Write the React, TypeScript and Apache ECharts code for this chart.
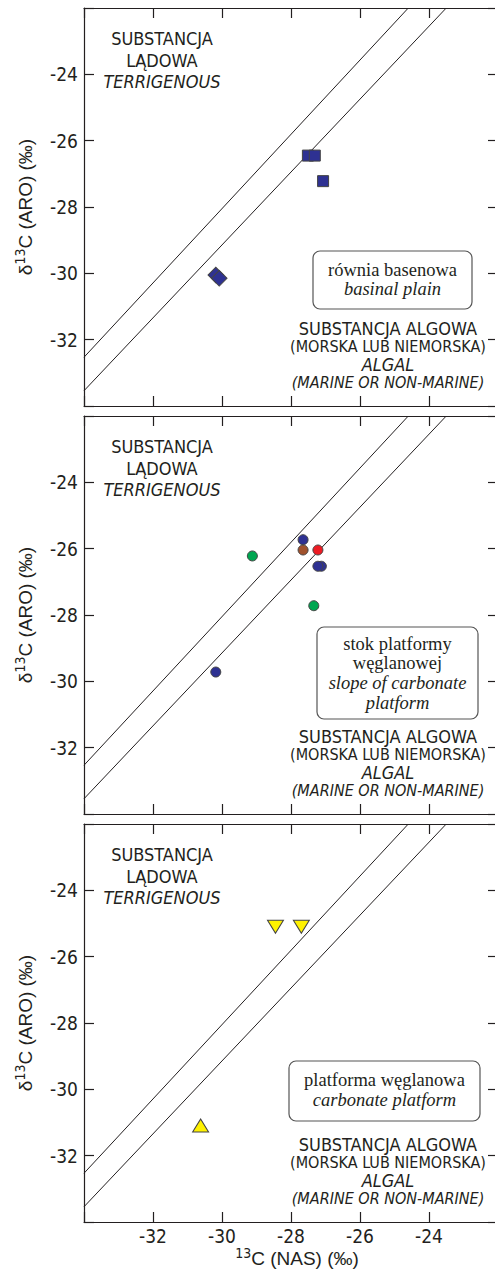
import React, { useEffect, useRef } from "react";
import * as echarts from "echarts";

// axis ranges
const X_MIN = -34;
const X_MAX = -22;
const Y_MIN = -34;
const Y_MAX = -22;
const TICK_STEP = 2;

// boundary lines (same in all panels)
const upperLine = [[-34, -32.53], [-24.6, -22]];
const lowerLine = [[-34, -33.54], [-23.5, -22]];

// panel 1: basinal plain
const basinSquares = [[-27.51, -26.45], [-27.31, -26.45], [-27.07, -27.22]];
const basinDiamonds = [[-30.18, -30.05], [-30.08, -30.15]];

// panel 2: slope of carbonate platform
const slopeBlue = [[-27.65, -25.73], [-27.12, -26.53], [-27.22, -26.53], [-30.18, -29.72]];
const slopeBrown = [[-27.65, -26.04]];
const slopeRed = [[-27.22, -26.04]];
const slopeGreen = [[-29.12, -26.22], [-27.34, -27.72]];

// panel 3: carbonate platform
const platformDown = [[-28.45, -25.1], [-27.7, -25.1]];
const platformUp = [[-30.62, -31.09]];

// texts
const yAxisTitle = "{a|δ}{s|13}{a|C (ARO) (‰)}";
const xAxisTitle = "{s|13}{a|C (NAS) (‰)}";
const terrText = ["SUBSTANCJA", "LĄDOWA", "TERRIGENOUS"];
const algalText = ["SUBSTANCJA ALGOWA", "(MORSKA LUB NIEMORSKA)", "ALGAL", "(MARINE OR NON-MARINE)"];
const boxTexts = [
  ["równia basenowa", "basinal plain"],
  ["stok platformy", "węglanowej", "slope of carbonate", "platform"],
  ["platforma węglanowa", "carbonate platform"],
];
const boxItalicFrom = [1, 2, 1];

const NARROW = '"Liberation Sans Narrow", "DejaVu Sans Condensed", "Liberation Sans", sans-serif';
const SANS = '"Liberation Sans", Arial, sans-serif';
const SERIF = '"Liberation Serif", "DejaVu Serif", serif';
const INK = "#231f20";

const GRID_LEFT = 84;
const GRID_W = 414;
const GRID_H = 398;
const gridTops = [8, 416, 824];

// box geometry relative to panel top
const boxGeom = [
  { x: 313, y: 243, w: 159, h: 58, lines: [261.5, 281] },
  { x: 317, y: 211, w: 161, h: 92, lines: [227.5, 247, 266.5, 286.5] },
  { x: 289, y: 237, w: 191, h: 60, lines: [256, 276] },
];

export default function App() {
  const ref = useRef<HTMLDivElement>(null);
  useEffect(() => {
    if (!ref.current) return;
    const chart = echarts.init(ref.current, undefined, { renderer: "svg" });

    const grids: any[] = [];
    const xAxes: any[] = [];
    const yAxes: any[] = [];
    const series: any[] = [];
    const graphics: any[] = [];

    const lineStyle = { color: INK, width: 1.2 };
    const baseAxis = (gridIndex: number) => ({
      type: "value",
      gridIndex,
      min: X_MIN,
      max: X_MAX,
      interval: TICK_STEP,
      axisLine: { show: true, onZero: false, lineStyle },
      axisTick: { show: true, inside: true, length: 10, lineStyle },
      splitLine: { show: false },
      axisLabel: { show: false },
    });
    const labelCfg = {
      show: true,
      color: INK,
      fontSize: 19,
      fontFamily: NARROW,
      formatter: (v: number) => (v === X_MIN || v === X_MAX ? "" : String(v)),
    };
    const richName = {
      a: { fontSize: 19, lineHeight: 24, fontFamily: SANS, fill: INK, color: INK },
      s: { fontSize: 14, lineHeight: 14, fontFamily: NARROW, fill: INK, color: INK, verticalAlign: "top" },
    };

    gridTops.forEach((top, i) => {
      grids.push({
        left: GRID_LEFT,
        top,
        width: GRID_W,
        height: GRID_H,
        containLabel: false,
        outerBoundsMode: "none",
      });
      const xb: any = { ...baseAxis(i), position: "bottom" };
      if (i === 2) {
        xb.axisLabel = { ...labelCfg, margin: 4 };
      }
      xAxes.push(xb);
      xAxes.push({ ...baseAxis(i), position: "top" });
      yAxes.push({
        ...baseAxis(i),
        min: Y_MIN,
        max: Y_MAX,
        position: "left",
        axisLabel: { ...labelCfg, margin: 6 },
      });
      yAxes.push({
        ...baseAxis(i),
        min: Y_MIN,
        max: Y_MAX,
        position: "right",
      });

      const xi = i * 2;
      const yi = i * 2;
      [upperLine, lowerLine].forEach((d) =>
        series.push({
          type: "line",
          xAxisIndex: xi,
          yAxisIndex: yi,
          data: d,
          symbol: "none",
          silent: true,
          lineStyle: { color: INK, width: 1 },
          z: 1,
        })
      );

      // y axis title (rotated)
      graphics.push({
        type: "text",
        x: 25,
        y: top + GRID_H / 2,
        rotation: Math.PI / 2,
        style: {
          text: yAxisTitle,
          rich: richName,
          textAlign: "center",
          textVerticalAlign: "middle",
          align: "center",
          verticalAlign: "middle",
          fill: INK,
        },
      });

      terrText.forEach((t, k) => {
        graphics.push({
          type: "text",
          style: {
            text: t,
            x: 162,
            y: top + [30, 52, 73][k],
            textAlign: "center",
            textVerticalAlign: "middle",
            align: "center",
            verticalAlign: "middle",
            fontSize: 18,
            fontFamily: NARROW,
            fontStyle: k === 2 ? "italic" : "normal",
            fill: INK,
          },
        });
      });
      algalText.forEach((t, k) => {
        graphics.push({
          type: "text",
          style: {
            text: t,
            x: 388,
            y: top + [320, 338.7, 356.3, 374][k],
            textAlign: "center",
            textVerticalAlign: "middle",
            align: "center",
            verticalAlign: "middle",
            fontSize: k % 2 === 0 ? 18 : 16,
            fontFamily: NARROW,
            fontStyle: k >= 2 ? "italic" : "normal",
            fill: INK,
          },
        });
      });
      const g = boxGeom[i];
      graphics.push({
        type: "rect",
        shape: { x: g.x, y: top + g.y, width: g.w, height: g.h, r: 7 },
        style: { fill: "#fff", stroke: "#555", lineWidth: 1.2 },
      });
      boxTexts[i].forEach((t, k) => {
        graphics.push({
          type: "text",
          style: {
            text: t,
            x: g.x + g.w / 2,
            y: top + g.lines[k],
            textAlign: "center",
            textVerticalAlign: "middle",
            align: "center",
            verticalAlign: "middle",
            fontSize: 18.5,
            fontFamily: SERIF,
            fontStyle: k >= boxItalicFrom[i] ? "italic" : "normal",
            fill: INK,
          },
        });
      });
    });

    // x axis title
    graphics.push({
      type: "text",
      x: 297,
      y: 1258,
      style: {
        text: xAxisTitle,
        rich: richName,
        textAlign: "center",
        textVerticalAlign: "middle",
        align: "center",
        verticalAlign: "middle",
        fill: INK,
      },
    });

    const sc = (gi: number, data: number[][], symbol: string, size: any, color: string, rotate = 0) => ({
      type: "scatter",
      xAxisIndex: gi * 2,
      yAxisIndex: gi * 2,
      data,
      symbol,
      symbolSize: size,
      symbolRotate: rotate,
      itemStyle: { color, borderColor: "#444", borderWidth: 1, opacity: 1 },
      z: 3,
    });

    series.push(sc(0, basinSquares, "rect", 11, "#2e3192"));
    series.push(sc(0, basinDiamonds, "rect", 11, "#2e3192", 45));
    series.push(sc(1, slopeBlue, "circle", 10, "#2e3192"));
    series.push(sc(1, slopeBrown, "circle", 10, "#a0522d"));
    series.push(sc(1, slopeRed, "circle", 10, "#ed1c24"));
    series.push(sc(1, slopeGreen, "circle", 10, "#00a651"));
    series.push(sc(2, platformDown, "triangle", [16, 13], "#fff200", 180));
    series.push(sc(2, platformUp, "triangle", [16, 13], "#fff200"));

    chart.setOption({
      animation: false,
      backgroundColor: "#fff",
      grid: grids,
      xAxis: xAxes,
      yAxis: yAxes,
      series,
      graphic: graphics,
    });
    return () => chart.dispose();
  }, []);

  return (
    <div
      ref={ref}
      style={{ position: "absolute", left: 0, top: 0, width: 495, height: 1271, overflow: "hidden" }}
    />
  );
}
